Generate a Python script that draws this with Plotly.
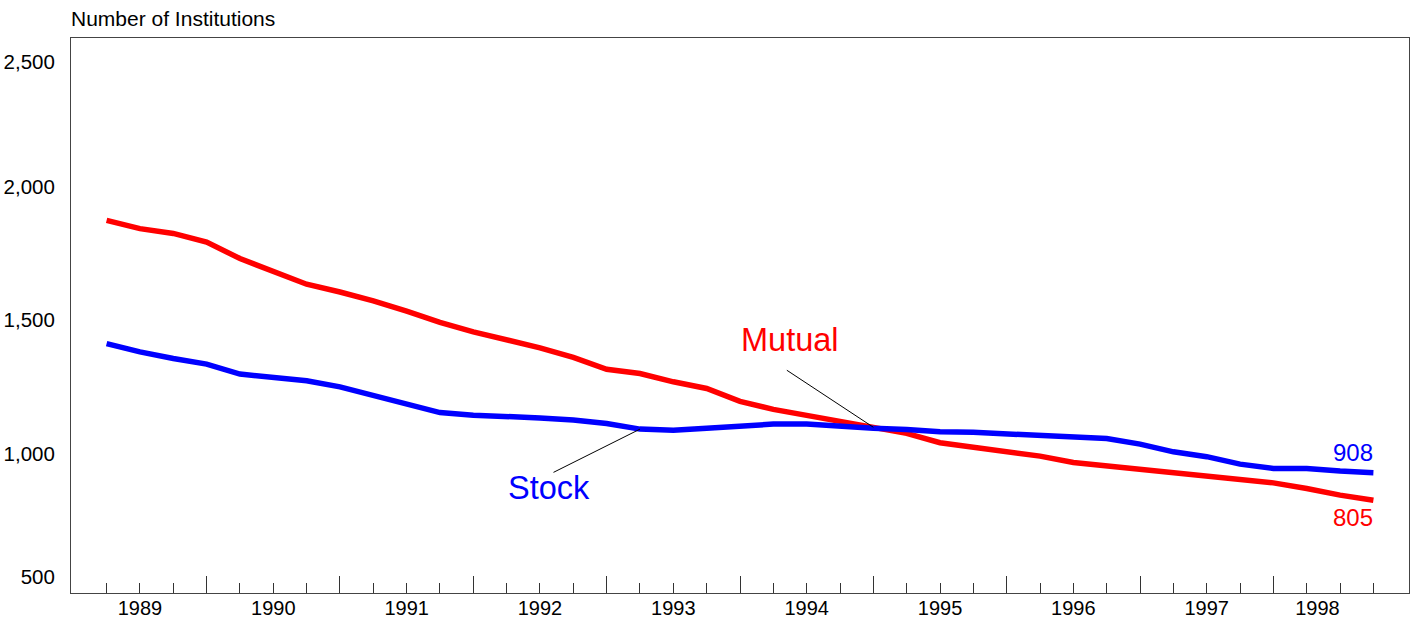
import plotly.graph_objects as go

# quarter-end observations, 1989Q1 .. 1998Q3
quarters = [f"{y}Q{q}" for y in range(1989, 1999) for q in range(1, 5)][:39]

mutual = [1852, 1821, 1803, 1771, 1709, 1663, 1613, 1584, 1551, 1512,
          1470, 1435, 1406, 1375, 1339, 1295, 1279, 1248, 1223, 1175,
          1145, 1123, 1102, 1078, 1055, 1020, 1003, 986, 970, 946,
          933, 918, 905, 895, 883, 870, 849, 824, 805]

stock = [1391, 1360, 1335, 1314, 1277, 1267, 1252, 1229, 1198, 1168,
         1133, 1123, 1120, 1113, 1105, 1092, 1071, 1067, 1074, 1082,
         1090, 1090, 1080, 1074, 1070, 1061, 1059, 1052, 1046, 1038,
         1036, 1015, 986, 968, 940, 924, 924, 914, 908]

year_labels = ["1989", "1990", "1991", "1992", "1993", "1994", "1995", "1996", "1997", "1998"]
year_label_pos = [1989.5, 1990.5, 1991.5, 1992.5, 1993.5, 1994.5, 1995.5, 1996.5, 1997.5, 1998.33]
y_labels = ["500", "1,000", "1,500", "2,000", "2,500"]
y_label_pos = [518, 979, 1478, 1979, 2445]

# quarter label -> decimal year at end of quarter
x = [int(s[:4]) + int(s[-1]) / 4 for s in quarters]

FONT = "Liberation Sans, Arial, sans-serif"
XR = [1988.983, 1999.017]

fig = go.Figure()
fig.add_trace(go.Scatter(x=x, y=mutual, mode="lines", name="Mutual",
                         line=dict(color="#ff0000", width=5.5)))
fig.add_trace(go.Scatter(x=x, y=stock, mode="lines", name="Stock",
                         line=dict(color="#0000ff", width=5.5)))
# invisible trace so the label axis gets drawn
fig.add_trace(go.Scatter(x=[XR[0]], y=[1000], xaxis="x2", mode="markers",
                         marker=dict(opacity=0), hoverinfo="skip", showlegend=False))

fig.update_layout(
    width=1414, height=620,
    paper_bgcolor="white", plot_bgcolor="white",
    margin=dict(l=71, r=5, t=38, b=27),
    showlegend=False,
    font=dict(family=FONT, size=20, color="#000"),
    title=dict(text="Number of Institutions", x=0, xref="paper", xanchor="left",
               y=1 - 19 / 620, yref="container", yanchor="middle",
               font=dict(size=21, color="#000")),
    xaxis=dict(range=XR, showgrid=False, zeroline=False, automargin=False,
               showline=True, linecolor="#444", linewidth=1, mirror=True,
               tickmode="array", tickvals=list(range(1990, 1999)),
               ticks="inside", ticklen=17, tickcolor="#333", tickwidth=1,
               showticklabels=False,
               minor=dict(tickmode="array",
                          tickvals=[v for v in x if v != int(v)],
                          ticks="inside", ticklen=10, tickcolor="#333", tickwidth=1)),
    xaxis2=dict(range=XR, overlaying="x", side="bottom", anchor="y", automargin=False,
                showgrid=False, zeroline=False, showline=False, ticks="",
                tickmode="array", tickvals=year_label_pos, ticktext=year_labels,
                ticklabelstandoff=1, tickfont=dict(size=20)),
    yaxis=dict(range=[458, 2534], showgrid=False, zeroline=False, automargin=False,
               showline=True, linecolor="#444", linewidth=1, mirror=True,
               tickmode="array", tickvals=y_label_pos, ticktext=y_labels,
               ticks="", ticklabelstandoff=11, tickfont=dict(size=20.5)),
)

# series labels with leader lines
fig.add_annotation(x=1994.375, y=1404, text="Mutual", showarrow=False,
                   font=dict(size=32.5, color="#ff0000"))
fig.add_annotation(x=1992.564, y=850, text="Stock", showarrow=False,
                   font=dict(size=32.5, color="#0000ff"))
fig.add_annotation(x=x[23], y=mutual[23], text=" ", font=dict(size=1),
                   showarrow=True, arrowhead=0, arrowwidth=1, arrowcolor="#000",
                   ax=-88, ay=-58)
fig.add_annotation(x=x[16], y=stock[16], text=" ", font=dict(size=1),
                   showarrow=True, arrowhead=0, arrowwidth=1, arrowcolor="#000",
                   ax=-88, ay=44)

# end values
fig.add_annotation(x=x[-1], y=stock[-1], text=str(stock[-1]), showarrow=False,
                   xanchor="right", xshift=2, yshift=20,
                   font=dict(size=24, color="#0000ff"))
fig.add_annotation(x=x[-1], y=mutual[-1], text=str(mutual[-1]), showarrow=False,
                   xanchor="right", xshift=2, yshift=-17,
                   font=dict(size=24, color="#ff0000"))

fig.write_html("out.html", config={"displayModeBar": False},
               post_script="document.body.style.margin='0';")
